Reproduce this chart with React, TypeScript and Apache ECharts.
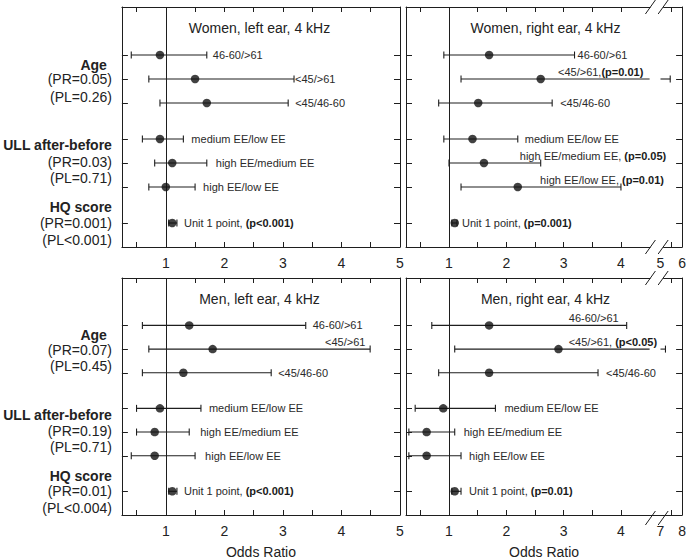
import React, { useEffect, useRef } from "react";
import * as echarts from "echarts";

const FONT = '"Liberation Sans", Arial, Helvetica, sans-serif';

// ---------- data ----------
const rowPos = [2, 3, 4, 5.5, 6.5, 7.5, 9];

const panelTitles = [
  "Women, left ear, 4 kHz",
  "Women, right ear, 4 kHz",
  "Men, left ear, 4 kHz",
  "Men, right ear, 4 kHz",
];

const wlLow = [0.41, 0.71, 0.9, 0.6, 0.81, 0.71, 1.05];
const wlOR = [0.9, 1.5, 1.7, 0.9, 1.11, 1.0, 1.11];
const wlHigh = [1.7, 3.19, 3.09, 1.3, 1.7, 1.5, 1.19];
const wlLabels = ["46-60/>61", "<45/>61", "<45/46-60", "medium EE/low EE", "high EE/medium EE", "high EE/low EE", "Unit 1 point, {b|(p<0.001)}"];

const wrLow = [0.91, 1.21, 0.82, 0.91, 1.0, 1.21, 1.05];
const wrOR = [1.7, 2.6, 1.51, 1.41, 1.61, 2.2, 1.1];
const wrHigh = [3.19, 5.45, 2.8, 2.2, 2.6, 4.0, 1.14];
const wrLabels = ["46-60/>61", "<45/>61,{b|(p=0.01)}", "<45/46-60", "medium EE/low EE", "high EE/medium EE, {b|(p=0.05)}", "high EE/low EE, {b|(p=0.01)}", "Unit 1 point, {b|(p=0.001)}"];

const mlLow = [0.6, 0.71, 0.6, 0.5, 0.5, 0.41, 1.05];
const mlOR = [1.4, 1.8, 1.3, 0.9, 0.81, 0.81, 1.11];
const mlHigh = [3.39, 4.49, 2.8, 1.6, 1.4, 1.5, 1.19];
const mlLabels = ["46-60/>61", "<45/>61", "<45/46-60", "medium EE/low EE", "high EE/medium EE", "high EE/low EE", "Unit 1 point, {b|(p<0.001)}"];

const mrLow = [0.7, 1.1, 0.82, 0.41, 0.3, 0.3, 1.05];
const mrOR = [1.7, 2.91, 1.7, 0.9, 0.61, 0.61, 1.1];
const mrHigh = [4.1, 7.23, 3.6, 1.81, 1.1, 1.21, 1.21];
const mrLabels = ["46-60/>61", "<45/>61, {b|(p<0.05)}", "<45/46-60", "medium EE/low EE", "high EE/medium EE", "high EE/low EE", "Unit 1 point, {b|(p=0.01)}"];

const womenStats = ["{bA|Age}", "(PR=0.05)", "(PL=0.26)", "{b|ULL after-before}", "(PR=0.03)", "(PL=0.71)", "{b|HQ score}", "(PR=0.001)", "(PL<0.001)"];
const menStats = ["{bA|Age}", "(PR=0.07)", "(PL=0.45)", "{b|ULL after-before}", "(PR=0.19)", "(PL=0.71)", "{b|HQ score}", "(PR=0.01)", "(PL<0.004)"];

const leftTickLabels = [1, 2, 3, 4, 5];
const rightTickLabelsTop = [1, 2, 3, 4, 5, 6];
const rightTickLabelsBottom = [1, 2, 3, 4, 7, 8];
const xAxisName = "Odds Ratio";

// ---------- layout / style ----------
const statPos = [2.4, 3.02, 3.73, 5.77, 6.44, 7.13, 8.35, 9.0, 9.69];
const X_MIN = 0.25;
const X_MAX_L = 5;
const BREAK_D = 4.5;
const RES_D = 4.69;
const POST = 0.377;
const X_MAX_R = RES_D + POST;

type Place = { m: "r"; dx: number } | { m: "a"; end: number };
const wlPlace: Place[] = [
  { m: "r", dx: 6 }, { m: "r", dx: 1 }, { m: "r", dx: 7 }, { m: "r", dx: 8 }, { m: "r", dx: 9 }, { m: "r", dx: 8 }, { m: "r", dx: 7 },
];
const wrPlace: Place[] = [
  { m: "r", dx: 3 }, { m: "a", end: 4.39 }, { m: "r", dx: 8 }, { m: "r", dx: 7 }, { m: "a", end: 4.79 }, { m: "a", end: 4.75 }, { m: "r", dx: 5 },
];
const mlPlace: Place[] = [
  { m: "r", dx: 7 }, { m: "a", end: 4.41 }, { m: "r", dx: 7 }, { m: "r", dx: 8 }, { m: "r", dx: 11 }, { m: "r", dx: 10 }, { m: "r", dx: 7 },
];
const mrPlace: Place[] = [
  { m: "a", end: 3.96 }, { m: "a", end: 4.63 }, { m: "r", dx: 8 }, { m: "r", dx: 9 }, { m: "r", dx: 9 }, { m: "r", dx: 8 }, { m: "r", dx: 8 },
];

const grids = [
  { left: 119, top: 7, width: 281, height: 240 },
  { left: 406, top: 7, width: 279, height: 240 },
  { left: 119, top: 278, width: 281, height: 240 },
  { left: 406, top: 278, width: 279, height: 240 },
];

type Panel = {
  low: number[]; or: number[]; high: number[]; labels: string[]; place: Place[];
  resume: number | null; tickLabels: number[]; stats: string[] | null; bottomRow: boolean;
};

const panels: Panel[] = [
  { low: wlLow, or: wlOR, high: wlHigh, labels: wlLabels, place: wlPlace, resume: null, tickLabels: leftTickLabels, stats: womenStats, bottomRow: false },
  { low: wrLow, or: wrOR, high: wrHigh, labels: wrLabels, place: wrPlace, resume: 5, tickLabels: rightTickLabelsTop, stats: null, bottomRow: false },
  { low: mlLow, or: mlOR, high: mlHigh, labels: mlLabels, place: mlPlace, resume: null, tickLabels: leftTickLabels, stats: menStats, bottomRow: true },
  { low: mrLow, or: mrOR, high: mrHigh, labels: mrLabels, place: mrPlace, resume: 7, tickLabels: rightTickLabelsBottom, stats: null, bottomRow: true },
];

function toDisp(v: number, resume: number | null) {
  if (resume == null || v <= BREAK_D) return v;
  return RES_D + (v - resume) * POST;
}

const LINE = "#1e1e1e";
const TEXT = "#222";

function buildOption() {
  const xAxis: any[] = [];
  const yAxis: any[] = [];
  const series: any[] = [];
  const graphic: any[] = [];

  panels.forEach((p, gi) => {
    const broken = p.resume != null;
    const xMax = broken ? X_MAX_R : X_MAX_L;
    const tickVals = broken
      ? [0.5, 1, 1.5, 2, 2.5, 3, 3.5, 4, RES_D + POST / 2]
      : [0.5, 1, 1.5, 2, 2.5, 3, 3.5, 4, 4.5, 5];
    const labelVals = p.tickLabels.map((t) => toDisp(t, p.resume));
    const fmt = (v: number) => {
      let best = 0;
      labelVals.forEach((lv, k) => {
        if (Math.abs(lv - v) < Math.abs(labelVals[best] - v)) best = k;
      });
      return String(p.tickLabels[best]);
    };
    const common = {
      type: "value",
      gridIndex: gi,
      min: X_MIN,
      max: xMax,
      splitLine: { show: false },
      axisLine: { show: true, onZero: false, lineStyle: { color: LINE, width: 1 } },
      axisTick: { show: true, inside: true, length: 5, customValues: tickVals, lineStyle: { color: LINE } },
    };
    xAxis.push({
      ...common,
      position: "bottom",
      axisLabel: { show: true, customValues: labelVals, formatter: fmt, fontSize: 14, fontFamily: FONT, color: TEXT, margin: 9 },
      name: p.bottomRow ? xAxisName : "",
      nameLocation: "middle",
      nameGap: 30,
      nameTextStyle: { fontSize: 14, fontFamily: FONT, color: TEXT },
    });
    xAxis.push({ ...common, position: "top", axisLabel: { show: false } });

    const ycommon = {
      type: "value",
      gridIndex: gi,
      min: 0,
      max: 10,
      inverse: true,
      splitLine: { show: false },
      axisLine: { show: true, onZero: false, lineStyle: { color: LINE, width: 1 } },
      axisTick: { show: true, inside: true, length: 6, customValues: rowPos, lineStyle: { color: LINE } },
    };
    const stats = p.stats;
    yAxis.push({
      ...ycommon,
      position: "left",
      axisLabel: stats
        ? {
            show: true,
            customValues: statPos,
            formatter: (v: number) => {
              let best = 0;
              statPos.forEach((sp, k) => {
                if (Math.abs(sp - v) < Math.abs(statPos[best] - v)) best = k;
              });
              return stats[best];
            },
            fontSize: 14,
            lineHeight: 12,
            fontFamily: FONT,
            color: TEXT,
            margin: 10,
            rich: {
              b: { fontWeight: "bold", fontSize: 14, lineHeight: 12, fontFamily: FONT, color: TEXT },
              bA: { fontWeight: "bold", fontSize: 14, lineHeight: 12, fontFamily: FONT, color: TEXT, padding: [0, 5, 0, 0] },
            },
          }
        : { show: false },
    });
    yAxis.push({ ...ycommon, position: "right", axisLabel: { show: false } });

    const data = p.low.map((l, i) => [toDisp(l, p.resume), toDisp(p.high[i], p.resume), rowPos[i]]);
    series.push({
      type: "custom",
      xAxisIndex: 2 * gi,
      yAxisIndex: 2 * gi,
      data,
      encode: { x: [0, 1], y: 2 },
      clip: false,
      z: 3,
      renderItem: (params: any, api: any) => {
        const i = params.dataIndex;
        const lo = api.value(0);
        const hi = api.value(1);
        const r = api.value(2);
        const children: any[] = [];
        const segs: number[][] = broken && hi > BREAK_D ? [[lo, BREAK_D], [RES_D, hi]] : [[lo, hi]];
        segs.forEach(([a, b]) => {
          const p1 = api.coord([a, r]);
          const p2 = api.coord([b, r]);
          children.push({ type: "line", shape: { x1: p1[0], y1: p1[1], x2: p2[0], y2: p2[1] }, style: { stroke: LINE, lineWidth: 1.1 } });
        });
        const pl = api.coord([lo, r]);
        const ph = api.coord([hi, r]);
        [pl, ph].forEach((pt) => {
          children.push({ type: "line", shape: { x1: pt[0], y1: pt[1] - 3.5, x2: pt[0], y2: pt[1] + 3.5 }, style: { stroke: LINE, lineWidth: 1.1 } });
        });
        const pc = p.place[i];
        let tx: number;
        let ty: number;
        let align: string;
        if (pc.m === "a") {
          tx = api.coord([pc.end, r])[0];
          ty = ph[1] - 7;
          align = "right";
        } else {
          tx = ph[0] + pc.dx;
          ty = ph[1];
          align = "left";
        }
        children.push({
          type: "text",
          x: tx,
          y: ty,
          style: {
            text: p.labels[i],
            fill: "#2a2a2a",
            fontSize: 11,
            fontFamily: FONT,
            align,
            verticalAlign: "middle",
            textAlign: align,
            textVerticalAlign: "middle",
            rich: { b: { fontWeight: "bold", fontSize: 11, fontFamily: FONT, fill: "#1a1a1a" } },
          },
        });
        return { type: "group", children };
      },
    });

    series.push({
      type: "scatter",
      xAxisIndex: 2 * gi,
      yAxisIndex: 2 * gi,
      data: p.or.map((v, i) => [toDisp(v, p.resume), rowPos[i]]),
      symbol: "circle",
      symbolSize: 8.5,
      itemStyle: { color: "#111" },
      z: 5,
      markLine: {
        silent: true,
        symbol: "none",
        label: { show: false },
        lineStyle: { color: LINE, width: 1, type: "solid" },
        data: [{ xAxis: 1 }],
      },
    });

    const g = grids[gi];
    graphic.push({
      type: "text",
      x: g.left + g.width / 2,
      y: g.top + 21,
      z: 50,
      style: {
        text: panelTitles[gi],
        fill: TEXT,
        fontSize: 14,
        fontFamily: FONT,
        align: "center",
        verticalAlign: "middle",
        textAlign: "center",
        textVerticalAlign: "middle",
      },
    });

    if (broken) {
      const px = (d: number) => g.left + ((d - X_MIN) / (X_MAX_R - X_MIN)) * g.width;
      const c1 = px(4.47);
      const c2 = px(RES_D);
      [g.top, g.top + g.height].forEach((yy) => {
        graphic.push({ type: "rect", z: 100, shape: { x: c1, y: yy - 1.5, width: c2 - c1, height: 3 }, style: { fill: "#fff" } });
        [c1, c2].forEach((c) => {
          graphic.push({ type: "line", z: 101, shape: { x1: c - 5, y1: yy + 7, x2: c + 5, y2: yy - 7 }, style: { stroke: LINE, lineWidth: 1 } });
        });
      });
    }
  });

  return {
    animation: false,
    backgroundColor: "#fff",
    textStyle: { fontFamily: FONT },
    grid: grids.map((g) => ({ ...g, containLabel: false })),
    xAxis,
    yAxis,
    series,
    graphic,
  };
}

export default function App() {
  const ref = useRef<HTMLDivElement>(null);
  useEffect(() => {
    if (!ref.current) return;
    const chart = echarts.init(ref.current, undefined, { renderer: "svg" });
    chart.setOption(buildOption() as any);
    return () => chart.dispose();
  }, []);
  return (
    <div
      ref={ref}
      style={{ position: "absolute", left: 0, top: 0, width: 689, height: 560, background: "#fff" }}
    />
  );
}
